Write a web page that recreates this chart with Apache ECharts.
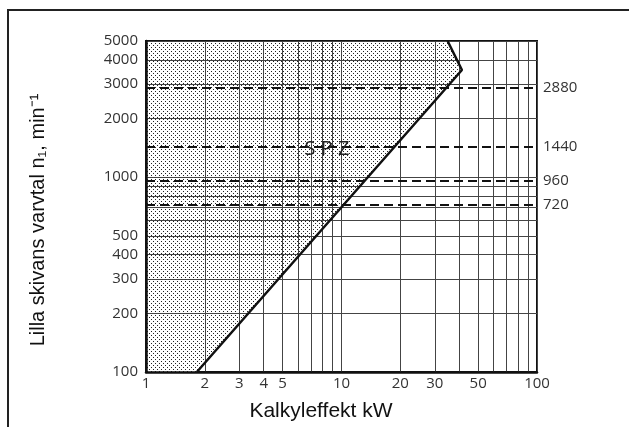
<!DOCTYPE html>
<html>
<head>
<meta charset="utf-8">
<script src="https://cdn.jsdelivr.net/npm/echarts@6/dist/echarts.min.js"></script>
<style>
html, body { margin: 0; padding: 0; background: #fff; }
#chart { width: 629px; height: 427px; }
</style>
</head>
<body>
<div id="chart"></div>
<script>
// rutnät och skalor (kW / min^-1)
var xGrid = [1, 2, 3, 4, 5, 6, 7, 8, 9, 10, 20, 30, 40, 50, 60, 70, 80, 90, 100];
var yGrid = [100, 200, 300, 400, 500, 600, 700, 800, 900, 1000, 2000, 3000, 4000, 5000];
var xLabels = [1, 2, 3, 4, 5, 10, 20, 30, 50, 100];
var yLabels = [100, 200, 300, 400, 500, 1000, 2000, 3000, 4000, 5000];
// gränslinje för SPZ
var limitP = [1.82, 41.3, 34.9];
var limitN = [100, 3548, 5000];
// skuggat område
var areaP = [1, 1.82, 41.3, 34.9, 1];
var areaN = [100, 100, 3548, 5000, 5000];
// motorvarvtal
var speeds = [2880, 1440, 960, 720];

var labelFont = '"Open Sans", sans-serif';
var plain = function (v) { return String(v); };

//punktraster för området
var dots = document.createElement('canvas');
dots.width = 4;
dots.height = 4;
var ctx = dots.getContext('2d');
ctx.fillStyle = '#fff';
ctx.fillRect(0, 0, 4, 4);
ctx.fillStyle = '#222';
ctx.fillRect(1, 1, 1, 1);
ctx.fillRect(3, 3, 1, 1);

var limitData = [];
for (var i = 0; i < limitP.length; i++) {
    limitData.push([limitP[i], limitN[i]]);
}

var chart = echarts.init(document.getElementById('chart'));
var option = {
    backgroundColor: '#fff',
    animation: false,
    grid: {
        left: 146, right: 92, top: 41, bottom: 55,
        show: true, borderColor: '#111', borderWidth: 2
    },
    xAxis: {
        type: 'log', logBase: 10, min: 1, max: 100, z: 3,
        axisLine: { show: true, lineStyle: { color: '#111', width: 2.5 } },
        axisTick: { show: false, customValues: xGrid },
        splitLine: { show: true, lineStyle: { color: '#444', width: 1 } },
        axisLabel: {
            customValues: xLabels, color: '#333', fontSize: 15,
            fontFamily: labelFont, margin: 4, formatter: plain
        }
    },
    yAxis: {
        type: 'log', logBase: 10, min: 100, max: 5000, z: 3,
        axisLine: { show: true, lineStyle: { color: '#111', width: 2.5 } },
        axisTick: { show: false, customValues: yGrid },
        splitLine: { show: true, lineStyle: { color: '#444', width: 1 } },
        axisLabel: {
            customValues: yLabels, color: '#333', fontSize: 15,
            fontFamily: labelFont, margin: 8, formatter: plain
        }
    },
    graphic: [
        { type: 'line', shape: { x1: 7, y1: 10, x2: 629, y2: 10 }, style: { stroke: '#222', lineWidth: 2 } },
        { type: 'line', shape: { x1: 8, y1: 10, x2: 8, y2: 427 }, style: { stroke: '#222', lineWidth: 2 } },
        {
            type: 'text', x: 38, y: 220, rotation: Math.PI / 2,
            style: {
                text: 'Lilla skivans varvtal n\u2081, min\u207B\u00B9',
                fill: '#111', font: '20px "Liberation Sans", Arial, sans-serif',
                align: 'center', verticalAlign: 'middle'
            }
        },
        {
            type: 'text', x: 321, y: 411,
            style: {
                text: 'Kalkyleffekt kW', fill: '#111',
                font: '21px "Liberation Sans", Arial, sans-serif',
                align: 'center', verticalAlign: 'middle'
            }
        },
        {
            type: 'text', x: 327, y: 149, z: 10,
            style: {
                text: 'S P Z', fill: '#222', font: '20px ' + labelFont,
                align: 'center', verticalAlign: 'middle'
            }
        }
    ],
    series: [
        {
            type: 'custom', z: 1, silent: true,
            data: [[1, 100]],
            renderItem: function (params, api) {
                var pts = [];
                for (var j = 0; j < areaP.length; j++) {
                    pts.push(api.coord([areaP[j], areaN[j]]));
                }
                return {
                    type: 'polygon',
                    shape: { points: pts },
                    style: { fill: { image: dots, repeat: 'repeat' } }
                };
            }
        },
        {
            type: 'line', z: 5, silent: true,
            data: limitData,
            symbol: 'none',
            lineStyle: { color: '#111', width: 2.5 },
            markLine: {
                symbol: 'none', silent: true,
                lineStyle: { type: [9, 5], color: '#111', width: 1.8 },
                label: {
                    position: 'end', formatter: '{c}', distance: 6,
                    color: '#333', fontSize: 15, fontFamily: labelFont
                },
                data: speeds.map(function (v) { return { yAxis: v }; })
            }
        }
    ]
};
chart.setOption(option);
</script>
</body>
</html>
